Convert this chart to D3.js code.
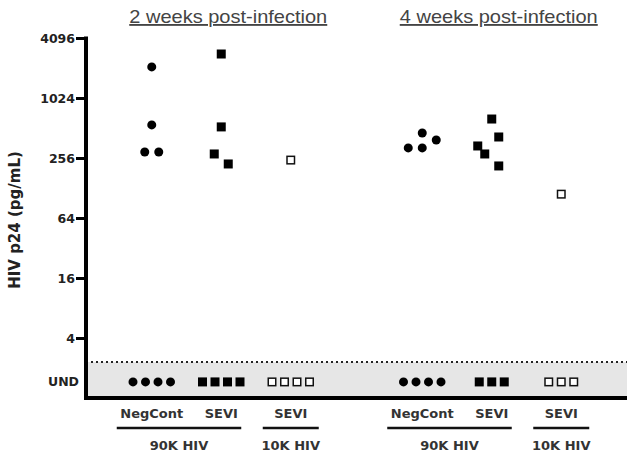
<!DOCTYPE html>
<html><head><meta charset="utf-8">
<script src="https://cdn.jsdelivr.net/npm/d3@7"></script>
<style>body{margin:0;background:#fff}svg{display:block}</style>
</head><body>
<svg id="chart" width="641" height="457"></svg>
<script>
// ---- data ----
const timepoints = ["2 weeks post-infection", "4 weeks post-infection"];
const categories = ["NegCont", "SEVI", "SEVI10K"];
const categoryLabels = ["NegCont", "SEVI", "SEVI"];
const virusGroups = ["90K HIV", "10K HIV"];
const markerShapes = ["circle", "square", "open"];
// measured values (pg/mL) and small horizontal dodge slots
const wk2NegCont = [2100, 550, 294, 294];      const wk2NegContSlot = [0, 0, -1, 1];
const wk2SEVI = [2830, 525, 281, 223];         const wk2SEVISlot = [0, 0, -1, 1];
const wk2SEVI10K = [244];                      const wk2SEVI10KSlot = [0];
const wk4NegCont = [323, 323, 456, 388];       const wk4NegContSlot = [-2, 0, 0, 2];
const wk4SEVI = [630, 416, 338, 281, 213];     const wk4SEVISlot = [0, 1, -2, -1, 1];
const wk4SEVI10K = [111];                      const wk4SEVI10KSlot = [0];
// number of undetectable samples
const wk2Und = [4, 4, 4];
const wk4Und = [4, 3, 3];
const yTicks = [4, 16, 64, 256, 1024, 4096];
const detectionLimit = 2.3;   // dotted line
const undLevel = 1.45;        // row where UND samples are drawn
const yMin = 1, yMax = 4096;

// ---- layout ----
const svg = d3.select("#chart");
const mLeft = 86, mRight = 627, mTop = 38, mBottom = 398;
const font = "'DejaVu Sans', Arial, sans-serif";

const y = d3.scaleLog().base(2).domain([yMin, yMax]).range([mBottom, mTop]);
const xOuter = d3.scaleBand().domain(timepoints).range([mLeft, mRight]).padding(0);
const xInner = d3.scalePoint().domain(categories).range([0, xOuter.bandwidth()]).padding(0.946);
const xc = (t, c) => xOuter(t) + xInner(c);
const slotW = 7, undW = 12.5, ms = 9;

const series = [
  [wk2NegCont, wk2NegContSlot, wk2SEVI, wk2SEVISlot, wk2SEVI10K, wk2SEVI10KSlot, wk2Und],
  [wk4NegCont, wk4NegContSlot, wk4SEVI, wk4SEVISlot, wk4SEVI10K, wk4SEVI10KSlot, wk4Und]
];

// gray UND band
svg.append("rect").attr("x", mLeft).attr("y", y(detectionLimit))
  .attr("width", mRight - mLeft).attr("height", mBottom - y(detectionLimit)).attr("fill", "#e6e6e6");
svg.append("line").attr("x1", mLeft).attr("x2", mRight)
  .attr("y1", y(detectionLimit)).attr("y2", y(detectionLimit))
  .attr("stroke", "#222").attr("stroke-width", 2).attr("stroke-dasharray", "2,3");

// axes
const yAxis = d3.axisLeft(y).tickValues(yTicks).tickFormat(d3.format("d")).tickSize(10).tickPadding(1);
const gy = svg.append("g").attr("transform", `translate(${mLeft},0)`).call(yAxis);
gy.select(".domain").remove();
gy.selectAll(".tick line").attr("stroke", "#000").attr("stroke-width", 3);
gy.selectAll(".tick text").attr("font-family", font).attr("font-weight", "bold")
  .attr("font-size", 12.5).attr("fill", "#222");
svg.append("line").attr("x1", mLeft).attr("x2", mLeft).attr("y1", mTop - 1.5).attr("y2", mBottom + 2)
  .attr("stroke", "#000").attr("stroke-width", 4);
svg.append("line").attr("x1", mLeft - 2).attr("x2", mRight).attr("y1", mBottom).attr("y2", mBottom)
  .attr("stroke", "#000").attr("stroke-width", 4);
svg.append("text").attr("x", mLeft - 7).attr("y", y(undLevel)).attr("dy", "0.35em")
  .attr("text-anchor", "end").attr("font-family", font).attr("font-weight", "bold")
  .attr("font-size", 12.5).attr("fill", "#222").text("UND");

// y label
svg.append("text").attr("transform", `translate(20,220) rotate(-90)`)
  .attr("text-anchor", "middle").attr("font-family", font).attr("font-weight", "bold")
  .attr("font-size", 15).attr("fill", "#222").text("HIV p24 (pg/mL)");

function drawMarker(g, shape, cx, cy) {
  if (shape === "circle") {
    g.append("circle").attr("cx", cx).attr("cy", cy).attr("r", ms / 2).attr("fill", "#000");
  } else if (shape === "square") {
    g.append("rect").attr("x", cx - ms / 2).attr("y", cy - ms / 2).attr("width", ms).attr("height", ms).attr("fill", "#000");
  } else {
    g.append("rect").attr("x", cx - ms / 2 + 0.75).attr("y", cy - ms / 2 + 0.75)
      .attr("width", ms - 1.5).attr("height", ms - 1.5).attr("fill", "#fff")
      .attr("stroke", "#111").attr("stroke-width", 1.5);
  }
}

const gm = svg.append("g");
timepoints.forEach((t, ti) => {
  const s = series[ti];
  categories.forEach((c, ci) => {
    const vals = s[ci * 2], slots = s[ci * 2 + 1], und = s[6][ci];
    const cx = xc(t, c);
    vals.forEach((v, i) => drawMarker(gm, markerShapes[ci], cx + slots[i] * slotW, y(v)));
    for (let k = 0; k < und; k++) {
      drawMarker(gm, markerShapes[ci], cx + (k - (und - 1) / 2) * undW, y(undLevel));
    }
    svg.append("text").attr("x", cx).attr("y", 418).attr("text-anchor", "middle")
      .attr("font-family", font).attr("font-weight", "bold").attr("font-size", 13)
      .attr("fill", "#333").text(categoryLabels[ci]);
  });
  const g90 = [xc(t, "NegCont") - 35, xc(t, "SEVI") + 20];
  const g10 = [xc(t, "SEVI10K") - 28, xc(t, "SEVI10K") + 28];
  [g90, g10].forEach((r, gi) => {
    svg.append("line").attr("x1", r[0]).attr("x2", r[1]).attr("y1", 428).attr("y2", 428)
      .attr("stroke", "#111").attr("stroke-width", 2.5);
    svg.append("text").attr("x", (r[0] + r[1]) / 2).attr("y", 450).attr("text-anchor", "middle")
      .attr("font-family", font).attr("font-weight", "bold").attr("font-size", 13)
      .attr("fill", "#333").text(virusGroups[gi]);
  });
  const tx = xOuter(t) + xOuter.bandwidth() / 2 + 7;
  svg.append("text").attr("x", tx).attr("y", 23).attr("text-anchor", "middle")
    .attr("font-family", "Arial, 'Liberation Sans', sans-serif").attr("font-size", 18.5)
    .attr("textLength", 198).attr("lengthAdjust", "spacingAndGlyphs")
    .attr("fill", "#444").attr("text-decoration", "underline").text(t);
});
</script>
</body></html>
